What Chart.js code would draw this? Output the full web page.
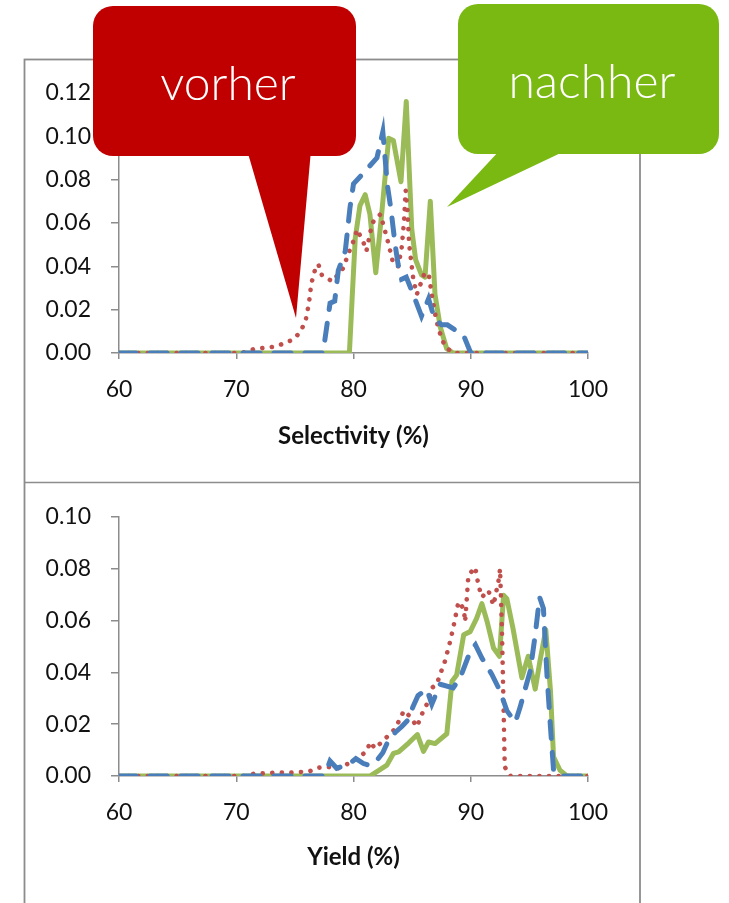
<!DOCTYPE html>
<html>
<head>
<meta charset="utf-8">
<script src="https://cdn.jsdelivr.net/npm/chart.js@4"></script>
<style>
  html, body { margin: 0; padding: 0; background: #fff; }
  body { width: 729px; height: 903px; position: relative; overflow: hidden; }
  canvas { position: absolute; }
  #top { left: 25px; top: 59px; }
  #bottom { left: 25px; top: 483px; }
  #overlay { position: absolute; left: 0; top: 0; }
</style>
</head>
<body>
<svg id="frame" width="729" height="903" style="position:absolute;left:0;top:0">
  <rect x="24.5" y="59.5" width="615.5" height="900" fill="none" stroke="#8c8c8c" stroke-width="1.8"/>
  <line x1="24.5" y1="482.5" x2="640" y2="482.5" stroke="#8c8c8c" stroke-width="1.5"/>
</svg>
<canvas id="top" width="616" height="422"></canvas>
<canvas id="bottom" width="616" height="420"></canvas>
<svg id="overlay" width="729" height="903">
  <rect x="93" y="6" width="263" height="150" rx="20" fill="#C00000"/>
  <polygon points="247,150 311,150 296,318" fill="#C00000"/>
  <text x="228" y="100" text-anchor="middle" fill="#fff" font-family="Lato" font-weight="300" font-size="48">vorher</text>
  <rect x="458" y="4" width="261" height="150" rx="20" fill="#7AB812"/>
  <polygon points="500,150 567,150 447,207" fill="#7AB812"/>
  <text x="592" y="98" text-anchor="middle" fill="#fff" font-family="Lato" font-weight="300" font-size="48">nachher</text>
</svg>
<script>
// Selectivity panel (top)
const selBlueX = [60, 77.4, 78.0, 78.4, 78.7, 79.3, 79.7, 80.0, 80.85, 82.0, 82.5, 82.9, 83.2, 83.55, 83.8, 84.1, 84.5, 85.1, 85.8, 86.4, 86.9, 87.5, 88.0, 89.4, 90.0, 100];
const selBlueY = [0, 0, 0.023, 0.024, 0.038, 0.047, 0.067, 0.078, 0.083, 0.090, 0.102, 0.077, 0.066, 0.050, 0.041, 0.034, 0.035, 0.027, 0.017, 0.025, 0.016, 0.013, 0.013, 0.008, 0, 0];

const selRedX = [60, 70.5, 71.6, 72.6, 73.3, 74.2, 74.9, 75.4, 75.9, 76.2, 76.4, 76.7, 77.0, 77.3, 78.2, 79.1, 79.65, 80.1, 80.3, 80.85, 81.1, 81.6, 82.3, 82.6, 83.0, 83.4, 83.8, 84.1, 84.3, 84.45, 84.6, 84.75, 85.1, 85.4, 86.0, 86.4, 86.7, 87.0, 87.25, 87.8, 88.5, 100];
const selRedY = [0, 0, 0.002, 0.0024, 0.003, 0.0046, 0.0064, 0.0093, 0.0144, 0.023, 0.032, 0.038, 0.041, 0.036, 0.033, 0.039, 0.047, 0.053, 0.057, 0.051, 0.047, 0.060, 0.064, 0.058, 0.050, 0.041, 0.040, 0.048, 0.060, 0.075, 0.066, 0.050, 0.034, 0.027, 0.036, 0.037, 0.026, 0.017, 0.011, 0.003, 0, 0];

const selGreenX = [60, 79.65, 79.9, 80.15, 80.55, 81.0, 81.4, 81.9, 82.4, 83.0, 83.4, 84.05, 84.5, 84.97, 85.3, 85.8, 86.1, 86.55, 86.95, 87.4, 87.95, 88.5, 100];
const selGreenY = [0, 0, 0.027, 0.053, 0.068, 0.073, 0.064, 0.037, 0.064, 0.099, 0.098, 0.079, 0.116, 0.057, 0.043, 0.036, 0.035, 0.070, 0.027, 0.012, 0.002, 0, 0];

// Yield panel (bottom)
const yldBlueX = [60, 77.4, 77.72, 78.0, 78.57, 79.2, 79.86, 80.2, 80.85, 81.4, 82.0, 82.5, 83.0, 83.6, 84.1, 84.6, 85.1, 85.5, 86.25, 86.68, 87.39, 88.5, 89.1, 89.95, 90.4, 90.95, 91.8, 92.5, 93.08, 93.8, 94.2, 95.07, 95.5, 95.87, 96.2, 96.5, 96.8, 97.06, 97.4, 100];
const yldBlueY = [0, 0, 0.0023, 0.0058, 0.003, 0.004, 0.0055, 0.0067, 0.0048, 0.004, 0.006, 0.009, 0.014, 0.017, 0.019, 0.0214, 0.027, 0.031, 0.0335, 0.0277, 0.0354, 0.034, 0.0379, 0.048, 0.0506, 0.0455, 0.0392, 0.0328, 0.0252, 0.0207, 0.0264, 0.0405, 0.0545, 0.069, 0.0646, 0.039, 0.0188, 0.0023, 0, 0];

const yldRedX = [60, 70.8, 71.6, 72.6, 73.45, 74.4, 75.3, 76.2, 77.0, 77.8, 78.7, 79.57, 80.4, 81.13, 81.42, 81.84, 82.84, 83.55, 84.3, 84.9, 85.4, 85.9, 86.4, 86.68, 87.1, 87.39, 87.8, 88.24, 88.5, 88.95, 89.4, 89.52, 89.8, 90.38, 90.66, 90.95, 91.5, 91.94, 92.4, 92.5, 92.65, 92.8, 92.9, 93.4, 100];
const yldRedY = [0, 0, 0.001, 0.001, 0.0014, 0.0012, 0.0015, 0.0017, 0.0032, 0.0035, 0.003, 0.0048, 0.007, 0.0096, 0.0131, 0.0106, 0.015, 0.0182, 0.0252, 0.0226, 0.019, 0.0245, 0.029, 0.034, 0.0354, 0.0392, 0.0443, 0.0519, 0.057, 0.0672, 0.0646, 0.0595, 0.0774, 0.0805, 0.0735, 0.069, 0.0716, 0.0659, 0.076, 0.0799, 0.0583, 0.0264, 0.0035, 0, 0];

const yldGreenX = [60, 81.4, 82.0, 82.85, 83.4, 83.85, 84.7, 85.45, 85.97, 86.4, 86.96, 87.96, 88.4, 88.8, 89.4, 89.95, 90.5, 90.95, 91.4, 91.94, 92.45, 92.8, 93.08, 93.6, 94.36, 94.9, 95.5, 95.9, 96.4, 96.8, 97.06, 97.6, 98.2, 100];
const yldGreenY = [0, 0, 0.0017, 0.0042, 0.0087, 0.0093, 0.0127, 0.016, 0.0095, 0.0131, 0.0125, 0.0163, 0.0366, 0.039, 0.0545, 0.0557, 0.0608, 0.0665, 0.0595, 0.0494, 0.0462, 0.0697, 0.0684, 0.057, 0.0379, 0.0462, 0.0335, 0.0443, 0.0564, 0.0328, 0.0074, 0.0023, 0, 0];

const xTicks = [60, 70, 80, 90, 100];

const axisGray = '#8c8c8c';
const tickFont = { family: 'Lato', size: 23 };

function pts(xs, ys) {
    return xs.map((x, i) => ({ x: x, y: ys[i] }));
}

function makeDatasets(bx, by, rx, ry, gx, gy) {
    // first dataset ends up on top
    return [
        { data: pts(bx, by), borderColor: '#4A7EBB', borderWidth: 5, borderDash: [17, 14], borderCapStyle: 'round', pointRadius: 0, tension: 0 },
        { data: pts(rx, ry), borderColor: '#C0504D', borderWidth: 4.6, borderDash: [0.1, 9.5], borderCapStyle: 'round', pointRadius: 0, tension: 0 },
        { data: pts(gx, gy), borderColor: '#9BBB59', borderWidth: 5, borderJoinStyle: 'round', pointRadius: 0, tension: 0 }
    ];
}

function makeChart(id, datasets, yMax, title, padTop, xHeight, titlePad) {
    new Chart(document.getElementById(id).getContext('2d'), {
        type: 'line',
        data: { datasets: datasets },
        options: {
            responsive: false,
            animation: false,
            devicePixelRatio: 1,
            layout: { padding: { top: padTop, right: 53, left: 0, bottom: 0 } },
            plugins: { legend: { display: false }, tooltip: { enabled: false } },
            scales: {
                x: {
                    type: 'linear',
                    min: 60, max: 100,
                    afterBuildTicks: (scale) => { scale.ticks = xTicks.map(v => ({ value: v })); },
                    afterFit: (scale) => { scale.height = xHeight; },
                    border: { color: axisGray, width: 1.5 },
                    grid: { drawOnChartArea: false, color: axisGray, lineWidth: 1.5, tickLength: 6 },
                    ticks: { font: tickFont, color: '#111', padding: 17, maxRotation: 0 },
                    title: { display: true, text: title, font: { family: 'Lato', size: 24, weight: 'bold' }, color: '#111', padding: { top: 0, bottom: titlePad } }
                },
                y: {
                    min: 0, max: yMax,
                    afterFit: (scale) => { scale.width = 94; },
                    border: { color: axisGray, width: 1.5 },
                    grid: { drawOnChartArea: false, color: axisGray, lineWidth: 1.5, tickLength: 8 },
                    ticks: { stepSize: 0.02, font: tickFont, color: '#111', padding: 20, callback: (v) => v.toFixed(2) }
                }
            }
        }
    });
}

makeChart('top', makeDatasets(selBlueX, selBlueY, selRedX, selRedY, selGreenX, selGreenY), 0.12, 'Selectivity (%)', 33, 128, 30);
makeChart('bottom', makeDatasets(yldBlueX, yldBlueY, yldRedX, yldRedY, yldGreenX, yldGreenY), 0.10, 'Yield (%)', 31, 127, 31);
</script>
</body>
</html>
